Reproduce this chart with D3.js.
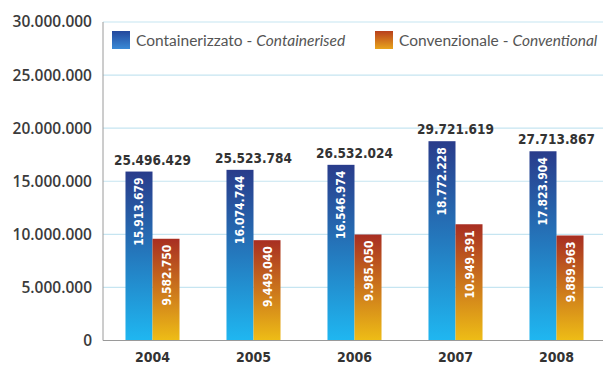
<!DOCTYPE html>
<html>
<head>
<meta charset="utf-8">
<script src="https://cdn.jsdelivr.net/npm/d3@7"></script>
<style>
  html, body { margin: 0; padding: 0; background: #fff; }
  svg { display: block; }
</style>
</head>
<body>
<svg id="chart" width="603" height="365"></svg>
<script>
// Traffic by year, tonnes
const years = ["2004", "2005", "2006", "2007", "2008"];
const containerised = [15913679, 16074744, 16546974, 18772228, 17823904];
const conventional = [9582750, 9449040, 9985050, 10949391, 9889963];
const yTicks = [0, 5000000, 10000000, 15000000, 20000000, 25000000, 30000000];
const seriesKeys = ["cont", "conv"];
const legendLabels = [
  ["Containerizzato - ", "Containerised"],
  ["Convenzionale - ", "Conventional"]
];

const fmt = v => d3.format(",")(v).replace(/,/g, ".");

const svg = d3.select("#chart");
const plotL = 103, plotR = 603, plotT = 22, plotB = 340.5;

const y = d3.scaleLinear().domain([0, 30000000]).range([plotB, plotT]);
const x = d3.scaleBand().domain(years).range([102, 607])
  .paddingInner(0.465).paddingOuter(0.2325);
const xs = d3.scaleBand().domain(seriesKeys).range([0, x.bandwidth()]).padding(0);

// gradients
const defs = svg.append("defs");
function grad(id, c1, c2) {
  const g = defs.append("linearGradient").attr("id", id)
    .attr("x1", 0).attr("y1", 0).attr("x2", 0).attr("y2", 1);
  g.append("stop").attr("offset", "0%").attr("stop-color", c1);
  g.append("stop").attr("offset", "100%").attr("stop-color", c2);
}
grad("gCont", "#293c8b", "#1fb7f1");
grad("gConv", "#a82e22", "#eebd16");
grad("gContL", "#24489c", "#3a8ad6");
grad("gConvL", "#b8401c", "#e8a41c");

// grid lines
svg.append("g").selectAll("line").data(yTicks.slice(1)).join("line")
  .attr("x1", plotL).attr("x2", plotR)
  .attr("y1", d => y(d)).attr("y2", d => y(d))
  .attr("stroke", "#c6e5f1").attr("stroke-width", 1.2);

// y axis labels
const yAxis = d3.axisLeft(y).tickValues(yTicks).tickSize(0).tickPadding(10)
  .tickFormat(fmt);
const ya = svg.append("g").attr("transform", `translate(${plotL - 1},0)`).call(yAxis);
ya.select(".domain").remove();
ya.selectAll("text")
  .attr("font-family", "'Open Sans', sans-serif")
  .attr("font-weight", 600)
  .attr("font-size", 15.5)
  .attr("fill", "#3b3b3b");

// bars
const groups = svg.append("g").selectAll("g").data(years).join("g")
  .attr("transform", d => `translate(${x(d)},0)`);

groups.each(function(yr, i) {
  const g = d3.select(this);
  const vals = { cont: containerised[i], conv: conventional[i] };
  seriesKeys.forEach(k => {
    const v = vals[k];
    g.append("rect")
      .attr("x", xs(k)).attr("width", xs.bandwidth())
      .attr("y", y(v)).attr("height", y(0) - y(v))
      .attr("fill", k === "cont" ? "url(#gCont)" : "url(#gConv)");
    g.append("text")
      .attr("transform", `translate(${xs(k) + xs.bandwidth() / 2 + 4.5},${y(v) + 6}) rotate(-90)`)
      .attr("text-anchor", "end")
      .attr("font-family", "'DejaVu Sans Condensed', 'DejaVu Sans', sans-serif")
      .attr("font-weight", "bold")
      .attr("font-size", 12)
      .attr("fill", "#ffffff")
      .text(fmt(v));
  });
  // total above the group
  const total = containerised[i] + conventional[i];
  g.append("text")
    .attr("x", x.bandwidth() / 2)
    .attr("y", y(containerised[i]) - 7)
    .attr("text-anchor", "middle")
    .attr("font-family", "'DejaVu Sans Condensed', 'DejaVu Sans', sans-serif")
    .attr("font-weight", "bold")
    .attr("font-size", 13.5)
    .attr("fill", "#333")
    .text(fmt(total));
});

// axis lines
svg.append("line").attr("x1", plotL).attr("x2", plotL).attr("y1", plotT).attr("y2", plotB)
  .attr("stroke", "#9a9a9a").attr("stroke-width", 1);
svg.append("line").attr("x1", plotL).attr("x2", plotR).attr("y1", plotB).attr("y2", plotB)
  .attr("stroke", "#9a9a9a").attr("stroke-width", 1);

// x labels
const xAxis = d3.axisBottom(x).tickSize(0).tickPadding(12);
const xa = svg.append("g").attr("transform", `translate(0,${plotB})`).call(xAxis);
xa.select(".domain").remove();
xa.selectAll("text")
  .attr("font-family", "'DejaVu Sans Condensed', 'DejaVu Sans', sans-serif")
  .attr("font-weight", "bold")
  .attr("font-size", 14)
  .attr("fill", "#333");

// legend
const legendX = [112, 375];
seriesKeys.forEach((k, i) => {
  const lg = svg.append("g").attr("transform", `translate(${legendX[i]},31)`);
  lg.append("rect").attr("width", 18).attr("height", 18)
    .attr("fill", k === "cont" ? "url(#gContL)" : "url(#gConvL)");
  const t = lg.append("text").attr("x", 24).attr("y", 14.5)
    .attr("font-family", "Lato, sans-serif")
    .attr("font-size", 15.5)
    .attr("fill", "#555");
  t.append("tspan").text(legendLabels[i][0]);
  t.append("tspan").attr("font-style", "italic").text(legendLabels[i][1]);
});
</script>
</body>
</html>
